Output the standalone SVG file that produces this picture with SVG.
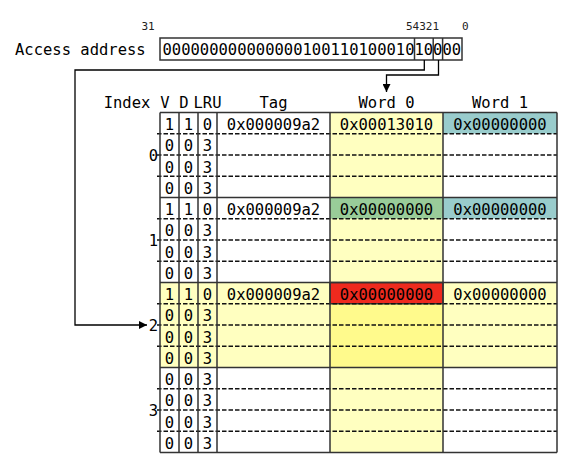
<svg xmlns="http://www.w3.org/2000/svg" width="582" height="469" viewBox="0 0 582 469">
<style>
text{font-family:"DejaVu Sans Mono","Liberation Mono",monospace;font-size:15.5px;fill:#000}
.s{font-size:11px;fill:#222}
.c{text-anchor:middle}
.e{text-anchor:end}
.sol{stroke:#333;stroke-width:1.5;fill:none}
.dash{stroke:#111;stroke-width:1.3;stroke-dasharray:4.5,2;fill:none}
.con{stroke:#000;stroke-width:1.3;fill:none}
</style>
<defs>
<marker id="ah" viewBox="0 0 10 10" refX="10" refY="5" markerWidth="8" markerHeight="8" markerUnits="userSpaceOnUse" orient="auto">
<path d="M0,0 L10,5 L0,10 z" fill="#000"/>
</marker>
</defs>
<rect width="582" height="469" fill="#fff"/>

<g id="address">
<text class="s c" x="148" y="30">31</text>
<text class="s" x="406" y="30">54321</text>
<text class="s" x="462" y="30">0</text>
<text x="15" y="55">Access address</text>
<rect x="160" y="38" width="302" height="22" class="sol"/>
<line x1="414.5" y1="38" x2="414.5" y2="60" class="sol"/>
<line x1="433.2" y1="38" x2="433.2" y2="60" class="sol"/>
<line x1="442.6" y1="38" x2="442.6" y2="60" class="sol"/>
<text x="162.5" y="55">00000000000000010011010001010000</text>
</g>

<g id="header">
<text class="c" x="127" y="108">Index</text>
<text class="c" x="165" y="108">V</text>
<text class="c" x="184" y="108">D</text>
<text class="c" x="207.5" y="108">LRU</text>
<text class="c" x="273.5" y="108">Tag</text>
<text class="c" x="386.5" y="108">Word 0</text>
<text class="c" x="500" y="108">Word 1</text>
</g>

<g id="table">
<rect x="330" y="112.5" width="113" height="340" fill="#ffffc0"/>
<rect x="160" y="282.5" width="397" height="85" fill="#ffffc0"/>
<rect x="330" y="303.75" width="113" height="63.75" fill="#fffa8c"/>
<rect x="443" y="112.5" width="114" height="21.25" fill="#99cccc"/>
<rect x="443" y="197.5" width="114" height="21.25" fill="#99cccc"/>
<rect x="330" y="197.5" width="113" height="21.25" fill="#99cc99"/>
<rect x="330" y="282.5" width="113" height="21.25" fill="#ee2a1e" stroke="#333" stroke-width="1.5"/>
<path class="dash" d="M157,133.75H557M157,155H557M157,176.25H557M157,218.75H557M157,240H557M157,261.25H557M157,303.75H557M157,325H557M157,346.25H557M157,388.75H557M157,410H557M157,431.25H557"/>
<path class="sol" d="M160,112.5H557M160,197.5H557M160,282.5H557M160,367.5H557M160,452.5H557M160,112.5V452.5M179,112.5V452.5M198,112.5V452.5M217,112.5V452.5M330,112.5V452.5M443,112.5V452.5M557,112.5V452.5"/>
</g>

<g id="index-labels">
<text class="e" x="158" y="161">0</text>
<text class="e" x="158" y="246">1</text>
<text class="e" x="158" y="330.5">2</text>
<text class="e" x="158" y="415.5">3</text>
</g>

<g id="set0">
<text class="c" x="169.5" y="130">1</text><text class="c" x="188.5" y="130">1</text><text class="c" x="207.5" y="130">0</text>
<text class="c" x="273.5" y="130">0x000009a2</text><text class="c" x="386.5" y="130">0x00013010</text><text class="c" x="500" y="130">0x00000000</text>
<text class="c" x="169.5" y="151.25">0</text><text class="c" x="188.5" y="151.25">0</text><text class="c" x="207.5" y="151.25">3</text>
<text class="c" x="169.5" y="172.5">0</text><text class="c" x="188.5" y="172.5">0</text><text class="c" x="207.5" y="172.5">3</text>
<text class="c" x="169.5" y="193.75">0</text><text class="c" x="188.5" y="193.75">0</text><text class="c" x="207.5" y="193.75">3</text>
</g>
<g id="set1">
<text class="c" x="169.5" y="215">1</text><text class="c" x="188.5" y="215">1</text><text class="c" x="207.5" y="215">0</text>
<text class="c" x="273.5" y="215">0x000009a2</text><text class="c" x="386.5" y="215">0x00000000</text><text class="c" x="500" y="215">0x00000000</text>
<text class="c" x="169.5" y="236.25">0</text><text class="c" x="188.5" y="236.25">0</text><text class="c" x="207.5" y="236.25">3</text>
<text class="c" x="169.5" y="257.5">0</text><text class="c" x="188.5" y="257.5">0</text><text class="c" x="207.5" y="257.5">3</text>
<text class="c" x="169.5" y="278.75">0</text><text class="c" x="188.5" y="278.75">0</text><text class="c" x="207.5" y="278.75">3</text>
</g>
<g id="set2">
<text class="c" x="169.5" y="300">1</text><text class="c" x="188.5" y="300">1</text><text class="c" x="207.5" y="300">0</text>
<text class="c" x="273.5" y="300">0x000009a2</text><text class="c" x="386.5" y="300">0x00000000</text><text class="c" x="500" y="300">0x00000000</text>
<text class="c" x="169.5" y="321.25">0</text><text class="c" x="188.5" y="321.25">0</text><text class="c" x="207.5" y="321.25">3</text>
<text class="c" x="169.5" y="342.5">0</text><text class="c" x="188.5" y="342.5">0</text><text class="c" x="207.5" y="342.5">3</text>
<text class="c" x="169.5" y="363.75">0</text><text class="c" x="188.5" y="363.75">0</text><text class="c" x="207.5" y="363.75">3</text>
</g>
<g id="set3">
<text class="c" x="169.5" y="385">0</text><text class="c" x="188.5" y="385">0</text><text class="c" x="207.5" y="385">3</text>
<text class="c" x="169.5" y="406.25">0</text><text class="c" x="188.5" y="406.25">0</text><text class="c" x="207.5" y="406.25">3</text>
<text class="c" x="169.5" y="427.5">0</text><text class="c" x="188.5" y="427.5">0</text><text class="c" x="207.5" y="427.5">3</text>
<text class="c" x="169.5" y="448.75">0</text><text class="c" x="188.5" y="448.75">0</text><text class="c" x="207.5" y="448.75">3</text>
</g>

<g id="connectors">
<path class="con" d="M424.3,60V70H75V325H147" marker-end="url(#ah)"/>
<path class="con" d="M438.5,60V75H386.5V92" marker-end="url(#ah)"/>
</g>
</svg>
